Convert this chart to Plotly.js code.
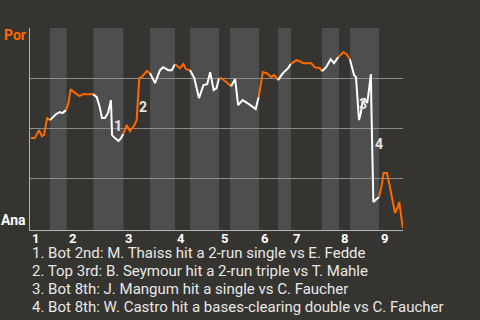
<!DOCTYPE html>
<html><head><meta charset="utf-8">
<script src="https://cdn.plot.ly/plotly-3.0.1.min.js"></script>
<style>html,body{margin:0;padding:0;background:#363430;}#chart{width:480px;height:320px;}</style>
</head><body><div id="chart"></div>
<script>
// game progress (0-100), win probability toward Por (1 = Por, 0 = Ana), half-inning index of each play
const progress = [0.2,1.3,2.4,3.2,3.75,4.6,5.36,
 6.2,7.0,8.0,8.7,9.65,
 10.3,10.9,11.8,13.3,14.2,15.55,16.9,
 17.9,18.7,19.3,20.1,20.9,21.7,22.0,22.8,23.7,24.4,25.0,
 25.9,26.8,28.0,28.6,29.3,29.95,31.3,32.17,
 33.5,34.85,35.7,37.1,38.0,38.87,
 40.2,41.1,41.8,42.9,
 44.05,45.3,46.5,47.5,48.3,49.25,50.0,50.67,
 51.3,52.7,53.9,
 55.0,55.8,57.0,58.7,60.5,61.3,
 62.4,63.5,64.7,65.4,66.0,66.49,
 67.8,69.2,69.9,
 71.4,72.3,73.2,75.4,76.3,77.7,78.25,
 79.4,80.6,81.5,82.65,
 84.0,84.9,85.75,
 86.9,87.4,87.75,88.2,88.7,89.1,89.8,90.4,90.7,91.4,91.5,91.65,91.9,92.05,92.95,93.57,
 94.3,94.8,95.7,96.5,97.25,97.85,98.5,99.0,99.65,100];
const winProb = [0.45,0.45,0.49,0.46,0.465,0.55,0.54,
 0.555,0.57,0.58,0.575,0.59,
 0.625,0.695,0.68,0.66,0.67,0.67,0.67,
 0.655,0.605,0.55,0.55,0.575,0.64,0.465,0.45,0.435,0.45,0.47,
 0.515,0.485,0.515,0.54,0.75,0.755,0.785,0.775,
 0.725,0.79,0.805,0.79,0.79,0.82,
 0.80,0.82,0.795,0.79,
 0.75,0.65,0.715,0.72,0.78,0.69,0.70,0.75,
 0.75,0.73,0.71,
 0.745,0.615,0.64,0.62,0.595,0.655,
 0.78,0.775,0.755,0.765,0.755,0.74,
 0.775,0.80,0.82,
 0.84,0.835,0.825,0.825,0.805,0.80,0.785,
 0.805,0.845,0.825,0.855,
 0.88,0.87,0.845,
 0.765,0.755,0.65,0.54,0.575,0.63,0.645,0.625,0.665,0.77,0.63,0.455,0.29,0.13,0.145,0.155,
 0.215,0.275,0.275,0.205,0.125,0.075,0.10,0.13,0.04,0.0];
const halfInning = [0,0,0,0,0,0,0,
 1,1,1,1,1,
 2,2,2,2,2,2,2,
 3,3,3,3,3,3,3,3,3,3,3,
 4,4,4,4,4,4,4,4,
 5,5,5,5,5,5,
 6,6,6,6,
 7,7,7,7,7,7,7,7,
 8,8,8,
 9,9,9,9,9,9,
 10,10,10,10,10,10,
 11,11,11,
 12,12,12,12,12,12,12,
 13,13,13,13,
 14,14,14,
 15,15,15,15,15,15,15,15,15,15,15,15,15,15,15,15,
 16,16,16,16,16,16,16,16,16,16];
const halfStarts = [0,5.36,9.84,16.98,25.03,32.17,38.87,42.9,50.67,53.62,61.39,66.49,69.97,78.28,82.84,85.79,93.57,100];
const inningLabels = ['1','2','3','4','5','6','7','8','9'];
const eventNums = ['1','2','3','4'];
const eventX = [23.67,30.38,89.36,93.62];
const eventY = [0.51,0.605,0.62,0.42];
const eventNotes = [
 '1. Bot 2nd: M. Thaiss hit a 2-run single vs E. Fedde',
 '2. Top 3rd: B. Seymour hit a 2-run triple vs T. Mahle',
 '3. Bot 8th: J. Mangum hit a single vs C. Faucher',
 '4. Bot 8th: W. Castro hit a bases-clearing double vs C. Faucher'
];
const teamTop = 'Por', teamBottom = 'Ana';

const ORANGE = '#ff6a00', WHITE = '#ffffff';
const traces = [];
for (let h = 0; h < halfStarts.length - 1; h++) {
  const xs = [], ys = [];
  let first = halfInning.indexOf(h);
  if (first < 0) continue;
  if (first > 0) { xs.push(progress[first-1]); ys.push(winProb[first-1]); }
  for (let i = first; i < progress.length && halfInning[i] === h; i++) { xs.push(progress[i]); ys.push(winProb[i]); }
  traces.push({x: xs, y: ys, type: 'scatter', mode: 'lines', hoverinfo: 'skip',
    line: {color: h % 2 === 0 ? ORANGE : WHITE, width: 2}});
}
const shapes = [];
for (let h = 1; h < halfStarts.length - 1; h += 2) {
  shapes.push({type: 'rect', xref: 'x', yref: 'paper', x0: halfStarts[h], x1: halfStarts[h+1], y0: 0, y1: 1,
    fillcolor: '#4e4e4e', line: {width: 0}, layer: 'below'});
}
const annotations = [
  {text: teamTop, xref: 'paper', yref: 'y', x: 0, y: 0.9675, xanchor: 'right', yanchor: 'middle', xshift: -2, showarrow: false,
   font: {family: 'Roboto', size: 14, color: ORANGE, weight: 'bold'}},
  {text: teamBottom, xref: 'paper', yref: 'y', x: 0, y: 0.04, xanchor: 'right', yanchor: 'middle', xshift: -2, showarrow: false,
   font: {family: 'Roboto', size: 14, color: '#ffffff', weight: 'bold'}}
];
// inning labels at the start of each inning
inningLabels.forEach((t, i) => annotations.push({text: t, x: halfStarts[2*i], xref: 'x', yref: 'paper', y: 0,
  xanchor: 'left', yanchor: 'top', yshift: 1, showarrow: false,
  font: {family: 'Roboto', size: 13, color: '#ffffff', weight: 'bold'}}));
// event notes below the chart
eventNotes.forEach((t, i) => annotations.push({text: t, xref: 'paper', yref: 'paper', x: 0, y: -(23 + 18*i)/202,
  xanchor: 'left', yanchor: 'middle', align: 'left', showarrow: false,
  font: {family: 'Roboto', size: 15, color: '#e8e8e8'}}));
eventNums.forEach((t, i) => annotations.push({text: t, x: eventX[i], y: eventY[i], xref: 'x', yref: 'y', showarrow: false,
  xanchor: 'center', yanchor: 'middle', font: {family: 'Roboto', size: 14, color: '#e6e6e6', weight: 'bold'}}));

const layout = {
  width: 480, height: 320, margin: {l: 30, r: 77, t: 28, b: 90, pad: 0},
  paper_bgcolor: '#363430', plot_bgcolor: '#363430', showlegend: false,
  xaxis: {range: [0, 100], showgrid: false, zeroline: false, showline: true, linecolor: '#b4b4b4', linewidth: 1,
    showticklabels: false, ticks: '', fixedrange: true},
  yaxis: {range: [-0.01, 1.001], tickvals: [0.25, 0.5, 0.75, 1], showticklabels: false, showgrid: true,
    gridcolor: '#8c8c8c', gridwidth: 1, zeroline: false, showline: true, linecolor: '#b4b4b4', linewidth: 1, fixedrange: true},
  shapes: shapes, annotations: annotations
};
Plotly.newPlot('chart', traces, layout, {displayModeBar: false, staticPlot: true});
</script></body></html>
